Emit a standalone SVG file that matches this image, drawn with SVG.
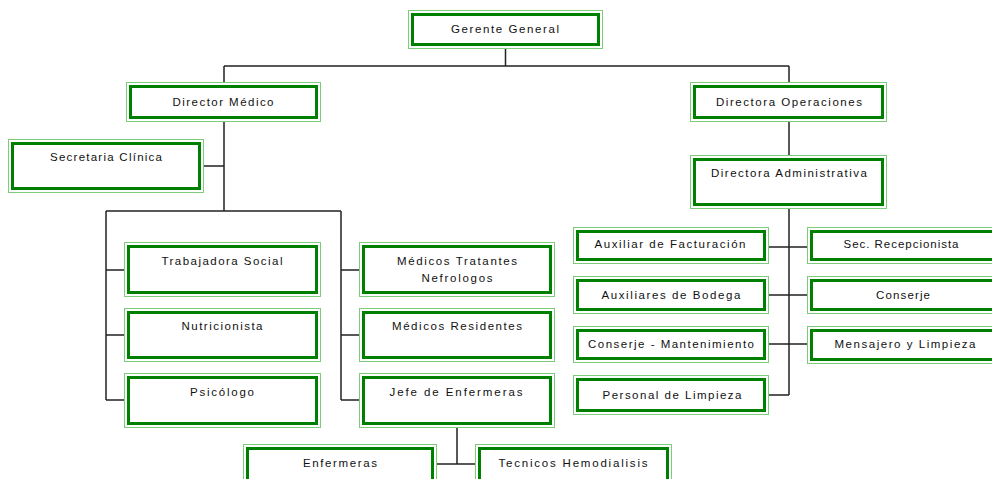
<svg xmlns="http://www.w3.org/2000/svg" width="992" height="479" viewBox="0 0 992 479">
<style>
.o{fill:#fff;stroke:#7ccc7c;stroke-width:1}
.i{fill:none;stroke:#008000;stroke-width:3}
.t{font-family:"Liberation Sans",Arial,sans-serif;font-size:11.5px;fill:#111;text-anchor:middle}
.c{fill:none;stroke:#222;stroke-width:1.5}
</style>
<rect width="992" height="479" fill="#fff"/>
<g id="connectors">
<path class="c" d="M505.5,49V66M224,66H789M224,66V82M789,66V82"/>
<path class="c" d="M224,122V211M204,166H224M106,211H341M106,211V400M341,211V400"/>
<path class="c" d="M106,270H124M106,335H124M106,400H124M341,270H359M341,335H359M341,400H359"/>
<path class="c" d="M457,428V464M437,464H475"/>
<path class="c" d="M789,122V155M789,209V395M769,247H807M769,295H807M769,344H807M769,395H789"/>
</g>
<g id="gerente"><rect class="o" x="408.5" y="10.5" width="194" height="38"/><rect class="i" x="412.5" y="14.5" width="186" height="30"/><text class="t" x="505" y="33" textLength="108" lengthAdjust="spacing">Gerente General</text></g>
<g id="director-medico"><rect class="o" x="126.5" y="82.5" width="194" height="39"/><rect class="i" x="130.5" y="86.5" width="186" height="31"/><text class="t" x="223" y="106" textLength="101" lengthAdjust="spacing">Director Médico</text></g>
<g id="secretaria"><rect class="o" x="8.5" y="139.5" width="195" height="53"/><rect class="i" x="12.5" y="143.5" width="187" height="45"/><text class="t" x="106" y="161" textLength="112" lengthAdjust="spacing">Secretaria Clínica</text></g>
<g id="trabajadora"><rect class="o" x="124.5" y="242.5" width="196" height="54"/><rect class="i" x="128.5" y="246.5" width="188" height="46"/><text class="t" x="222" y="265" textLength="121" lengthAdjust="spacing">Trabajadora Social</text></g>
<g id="nutricionista"><rect class="o" x="124.5" y="308.5" width="196" height="53"/><rect class="i" x="128.5" y="312.5" width="188" height="45"/><text class="t" x="222" y="330" textLength="81" lengthAdjust="spacing">Nutricionista</text></g>
<g id="psicologo"><rect class="o" x="124.5" y="373.5" width="196" height="54"/><rect class="i" x="128.5" y="377.5" width="188" height="46"/><text class="t" x="222" y="396" textLength="64" lengthAdjust="spacing">Psicólogo</text></g>
<g id="medicos-tratantes"><rect class="o" x="359.5" y="242.5" width="195" height="54"/><rect class="i" x="363.5" y="246.5" width="187" height="46"/><text class="t" x="457" y="265" textLength="120" lengthAdjust="spacing">Médicos Tratantes</text><text class="t" x="457" y="282" textLength="71" lengthAdjust="spacing">Nefrologos</text></g>
<g id="medicos-residentes"><rect class="o" x="359.5" y="308.5" width="195" height="53"/><rect class="i" x="363.5" y="312.5" width="187" height="45"/><text class="t" x="457" y="330" textLength="130" lengthAdjust="spacing">Médicos Residentes</text></g>
<g id="jefe-enfermeras"><rect class="o" x="359.5" y="373.5" width="195" height="54"/><rect class="i" x="363.5" y="377.5" width="187" height="46"/><text class="t" x="456" y="396" textLength="133" lengthAdjust="spacing">Jefe de Enfermeras</text></g>
<g id="enfermeras"><rect class="o" x="243.5" y="444.5" width="193" height="44"/><rect class="i" x="247.5" y="448.5" width="185" height="36"/><text class="t" x="340" y="467" textLength="74" lengthAdjust="spacing">Enfermeras</text></g>
<g id="tecnicos"><rect class="o" x="475.5" y="444.5" width="196" height="44"/><rect class="i" x="479.5" y="448.5" width="188" height="36"/><text class="t" x="573" y="467" textLength="149" lengthAdjust="spacing">Tecnicos Hemodialisis</text></g>
<g id="directora-operaciones"><rect class="o" x="690.5" y="82.5" width="196" height="39"/><rect class="i" x="694.5" y="86.5" width="188" height="31"/><text class="t" x="789" y="106" textLength="146" lengthAdjust="spacing">Directora Operaciones</text></g>
<g id="directora-administrativa"><rect class="o" x="690.5" y="155.5" width="196" height="53"/><rect class="i" x="694.5" y="159.5" width="188" height="45"/><text class="t" x="789" y="177" textLength="156" lengthAdjust="spacing">Directora Administrativa</text></g>
<g id="auxiliar-facturacion"><rect class="o" x="573.5" y="227.5" width="195" height="36"/><rect class="i" x="577.5" y="231.5" width="187" height="28"/><text class="t" x="670" y="248" textLength="151" lengthAdjust="spacing">Auxiliar de Facturación</text></g>
<g id="auxiliares-bodega"><rect class="o" x="573.5" y="276.5" width="195" height="37"/><rect class="i" x="577.5" y="280.5" width="187" height="29"/><text class="t" x="671" y="299" textLength="139" lengthAdjust="spacing">Auxiliares de Bodega</text></g>
<g id="conserje-mantenimiento"><rect class="o" x="573.5" y="326.5" width="195" height="36"/><rect class="i" x="577.5" y="330.5" width="187" height="28"/><text class="t" x="671" y="348" textLength="166" lengthAdjust="spacing">Conserje - Mantenimiento</text></g>
<g id="personal-limpieza"><rect class="o" x="573.5" y="375.5" width="195" height="39"/><rect class="i" x="577.5" y="379.5" width="187" height="31"/><text class="t" x="672" y="399" textLength="139" lengthAdjust="spacing">Personal de Limpieza</text></g>
<g id="sec-recepcionista"><rect class="o" x="807.5" y="227.5" width="192" height="36"/><rect class="i" x="811.5" y="231.5" width="184" height="28"/><text class="t" x="901" y="248" textLength="115" lengthAdjust="spacing">Sec. Recepcionista</text></g>
<g id="conserje"><rect class="o" x="807.5" y="276.5" width="192" height="37"/><rect class="i" x="811.5" y="280.5" width="184" height="29"/><text class="t" x="903" y="299" textLength="54" lengthAdjust="spacing">Conserje</text></g>
<g id="mensajero-limpieza"><rect class="o" x="807.5" y="326.5" width="192" height="37"/><rect class="i" x="811.5" y="330.5" width="184" height="29"/><text class="t" x="905" y="348" textLength="141" lengthAdjust="spacing">Mensajero y Limpieza</text></g>
</svg>
